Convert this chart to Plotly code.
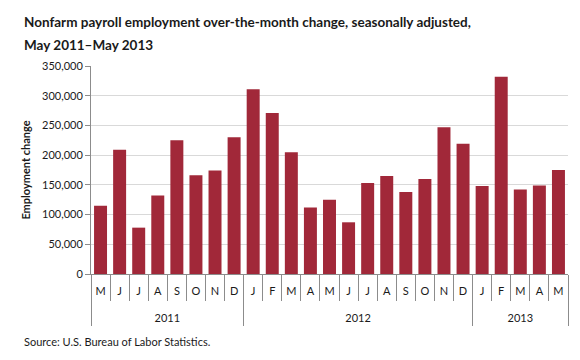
import plotly.graph_objects as go

months = ["M", "J", "J", "A", "S", "O", "N", "D",
          "J", "F", "M", "A", "M", "J", "J", "A", "S", "O", "N", "D",
          "J", "F", "M", "A", "M"]
year_labels = ["2011", "2012", "2013"]
year_counts = [8, 12, 5]
values = [115000, 209000, 78000, 132000, 225000, 166000, 174000, 230000,
          311000, 271000, 205000, 112000, 125000, 87000, 153000, 165000,
          138000, 160000, 247000, 219000,
          148000, 332000, 142000, 149000, 175000]
title_lines = ["Nonfarm payroll employment over-the-month change, seasonally adjusted,",
               "May 2011–May 2013"]

idx = list(range(len(values)))
# year group boundaries and centres derived from the counts
bounds = [-0.5]
for c in year_counts:
    bounds.append(bounds[-1] + c)
centres = [(a + b) / 2 for a, b in zip(bounds[:-1], bounds[1:])]

FONT = "Lato, 'Open Sans', sans-serif"
BAR = "#A12839"
AX = "#8C8C8C"
XR = [-0.5, len(values) - 0.5]

W, H = 572, 352  # page body has an 8px margin
PW, PH = 477, 208  # plot area size in px

fig = go.Figure(go.Bar(x=idx, y=values, marker_color=BAR,
                       marker_line_width=0, width=0.68))
# invisible helper trace to activate the year axis
fig.add_trace(go.Scatter(x=[XR[0]], y=[0], xaxis="x2", mode="markers",
                         marker=dict(opacity=0), hoverinfo="skip", showlegend=False))

fig.update_layout(
    width=W, height=H,
    margin=dict(l=83, r=12, t=58, b=86),
    paper_bgcolor="white", plot_bgcolor="white",
    font=dict(family=FONT, size=11, color="#1a1a1a"),
    showlegend=False,
    xaxis=dict(range=XR, tickmode="array", tickvals=idx, ticktext=months,
               ticks="", showline=True, linecolor=AX, linewidth=1,
               showgrid=False, zeroline=False, automargin=False,
               tickfont=dict(size=11), ticklabelstandoff=7,
               minor=dict(tickmode="linear", tick0=-0.5, dtick=1, ticks="outside",
                          ticklen=26, tickcolor=AX, tickwidth=1, showgrid=False)),
    xaxis2=dict(range=XR, overlaying="x", anchor="y", side="bottom",
                tickmode="array", tickvals=centres, ticktext=year_labels,
                ticks="", showline=False, showgrid=False, zeroline=False,
                automargin=False, tickfont=dict(size=11), ticklabelstandoff=36,
                minor=dict(tickmode="array", tickvals=bounds, ticks="outside",
                           ticklen=51, tickcolor=AX, tickwidth=1, showgrid=False)),
    yaxis=dict(range=[0, 350000], tickvals=list(range(0, 350001, 50000)),
               tickformat=",d", showgrid=True, gridcolor="#D9D9D9", gridwidth=1,
               showline=True, linecolor=AX, linewidth=1,
               ticks="outside", ticklen=5, tickcolor=AX,
               zeroline=False, automargin=False,
               title=dict(text="<b>Employment change</b>", standoff=9,
                          font=dict(size=11))),
)

for line, ypx in zip(title_lines, [22, 45]):
    fig.add_annotation(text="<b>" + line + "</b>",
                       xref="paper", yref="paper", x=(22 - 91) / PW, y=(274 - ypx) / PH,
                       xanchor="left", yanchor="middle", showarrow=False,
                       font=dict(size=13.5, color="#1a1a1a"))

fig.add_annotation(text="Source: U.S. Bureau of Labor Statistics.",
                   xref="paper", yref="paper", x=(22 - 91) / PW, y=-(341 - 274) / PH,
                   xanchor="left", yanchor="middle", showarrow=False,
                   font=dict(size=11))

fig.write_html("out.html")
